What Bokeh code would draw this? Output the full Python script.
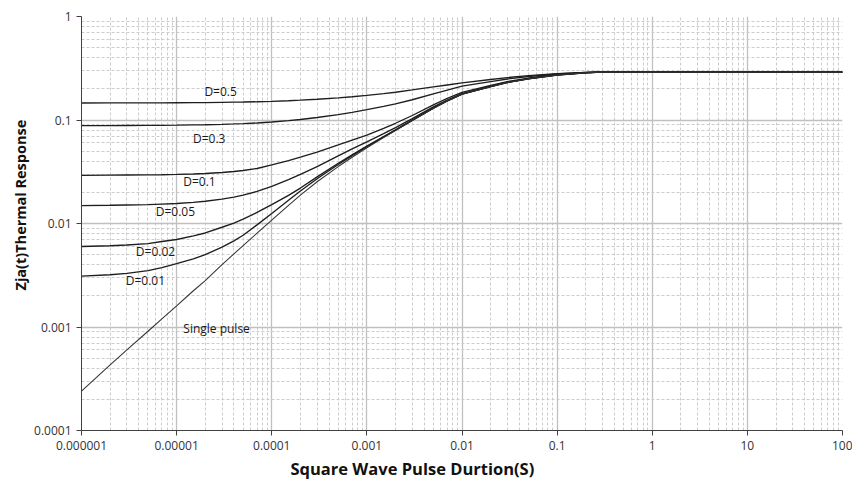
from bokeh.plotting import figure
from bokeh.models import FixedTicker, Title
from bokeh.core.properties import value
from bokeh.embed import file_html
from bokeh.resources import INLINE

# ---- data ----
pulse_t = [1e-6, 2e-6, 3e-6, 5e-6, 7e-6, 1e-5, 1.5e-5, 2e-5, 3e-5, 4e-5, 5e-5,
           7e-5, 1e-4, 1.5e-4, 2e-4, 3e-4, 5e-4, 7e-4, 1e-3, 1.5e-3, 2e-3,
           3e-3, 5e-3, 7e-3, 1e-2, 2e-2, 3e-2, 5e-2, 0.1, 0.2, 0.3, 0.5, 1,
           10, 100]

z_single = [0.00024, 0.00043, 0.00060, 0.00091, 0.0012, 0.0016, 0.00224,
            0.0028, 0.0040, 0.00508, 0.0061, 0.00806, 0.0108, 0.0150, 0.0188,
            0.0253, 0.0355, 0.0437, 0.054, 0.0675, 0.0789, 0.0986, 0.1295,
            0.1524, 0.1774, 0.21, 0.23, 0.25, 0.272, 0.286, 0.29, 0.29, 0.29,
            0.29, 0.29]
z_d001 = [0.0031, 0.0032, 0.0033, 0.0035, 0.00375, 0.0041, 0.00455, 0.0050,
          0.0059, 0.0068, 0.0077, 0.0097, 0.0125, 0.0168, 0.0206, 0.0271,
          0.0372, 0.0452, 0.0553, 0.0685, 0.0797, 0.0992, 0.1300, 0.1528,
          0.1777, 0.2102, 0.2302, 0.2502, 0.2722, 0.2862, 0.29, 0.29, 0.29,
          0.29, 0.29]
z_d002 = [0.0060, 0.0061, 0.0062, 0.0064, 0.0067, 0.0070, 0.0076, 0.0081,
          0.0092, 0.0101, 0.0110, 0.0128, 0.0152, 0.0187, 0.0220, 0.0282,
          0.0382, 0.0460, 0.0560, 0.0692, 0.0802, 0.0997, 0.1303, 0.1531,
          0.1780, 0.2105, 0.2305, 0.2505, 0.2723, 0.2862, 0.29, 0.29, 0.29,
          0.29, 0.29]
z_d005 = [0.0149, 0.0150, 0.0151, 0.0152, 0.0154, 0.0156, 0.0160, 0.0164,
          0.0172, 0.0180, 0.0188, 0.0204, 0.0228, 0.0265, 0.0298, 0.0355,
          0.0450, 0.0525, 0.0615, 0.0740, 0.0845, 0.1030, 0.1340, 0.1560,
          0.1800, 0.2120, 0.2320, 0.2515, 0.2728, 0.2865, 0.29, 0.29, 0.29,
          0.29, 0.29]
z_d01 = [0.0292, 0.0293, 0.0294, 0.0295, 0.0296, 0.0298, 0.0301, 0.0304,
         0.0311, 0.0318, 0.0325, 0.0340, 0.0368, 0.0405, 0.0438, 0.0490,
         0.0575, 0.0640, 0.0715, 0.0830, 0.0930, 0.1105, 0.1400, 0.1615,
         0.1850, 0.2160, 0.2350, 0.2540, 0.2740, 0.2870, 0.29, 0.29, 0.29,
         0.29, 0.29]
z_d03 = [0.0882, 0.0883, 0.0884, 0.0886, 0.0888, 0.0891, 0.0896, 0.0900,
         0.0908, 0.0916, 0.0923, 0.0936, 0.0956, 0.0985, 0.1012, 0.1057,
         0.1129, 0.1186, 0.1258, 0.1353, 0.1432, 0.1570, 0.1787, 0.1947,
         0.2122, 0.2350, 0.2490, 0.2630, 0.2784, 0.2882, 0.29, 0.29, 0.29,
         0.29, 0.29]
z_d05 = [0.1461, 0.1462, 0.1463, 0.1465, 0.1466, 0.1468, 0.1471, 0.1474,
         0.1480, 0.1486, 0.1491, 0.1500, 0.1514, 0.1535, 0.1554, 0.1587,
         0.1638, 0.1679, 0.1730, 0.1798, 0.1855, 0.1953, 0.2088, 0.2180,
         0.2280, 0.2460, 0.2570, 0.2685, 0.2810, 0.2885, 0.29, 0.29, 0.29,
         0.29, 0.29]

curve_names = ["D=0.5", "D=0.3", "D=0.1", "D=0.05", "D=0.02", "D=0.01", "Single pulse"]
label_x = [2.9e-5, 2.2e-5, 1.74e-5, 9.7e-6, 6.0e-6, 4.7e-6, 2.63e-5]
label_y = [0.19, 0.0658, 0.0255, 0.01315, 0.0054, 0.00281, 0.00097]

x_ticks = [1e-6, 1e-5, 1e-4, 1e-3, 1e-2, 1e-1, 1, 10, 100]
x_tick_labels = ["0.000001", "0.00001", "0.0001", "0.001", "0.01", "0.1", "1", "10", "100"]
y_ticks = [1e-4, 1e-3, 1e-2, 1e-1, 1]
y_tick_labels = ["0.0001", "0.001", "0.01", "0.1", "1"]

x_title = "Square Wave Pulse Durtion(S)"
y_title = "Zja(t)Thermal Response"

# ---- figure ----
p = figure(width=852, height=483, x_axis_type="log", y_axis_type="log",
           x_range=(1e-6, 100), y_range=(1e-4, 1),
           output_backend="svg", toolbar_location=None,
           min_border_left=81, min_border_right=10, min_border_top=16,
           min_border_bottom=53)
p.outline_line_color = None
p.background_fill_color = "white"

x_minor = [m * 10.0 ** e for e in range(-6, 2) for m in range(2, 10)]
y_minor = [m * 10.0 ** e for e in range(-4, 0) for m in range(2, 10)]
p.xaxis.ticker = FixedTicker(ticks=x_ticks, minor_ticks=x_minor)
p.yaxis.ticker = FixedTicker(ticks=y_ticks, minor_ticks=y_minor)
p.xaxis.major_label_overrides = dict(zip(x_ticks, x_tick_labels))
p.yaxis.major_label_overrides = dict(zip(y_ticks, y_tick_labels))

for ax in (p.xaxis[0], p.yaxis[0]):
    ax.axis_line_color = "#404040"
    ax.axis_line_width = 1
    ax.major_tick_line_color = "#404040"
    ax.major_tick_out = 5
    ax.major_tick_in = 0
    ax.minor_tick_line_color = None
    ax.major_label_text_font = "Open Sans"
    ax.major_label_text_font_size = "12px"
    ax.major_label_text_color = "#333333"
    ax.major_label_standoff = 5

p.grid.grid_line_color = "#c0c0c0"
p.grid.grid_line_width = 1.3
p.grid.minor_grid_line_color = "#cccccc"
p.grid.minor_grid_line_dash = "3 2"
p.grid.minor_grid_line_width = 1

series = [z_d05, z_d03, z_d01, z_d005, z_d002, z_d001]
for s in series:
    p.line(pulse_t, s, line_color="#1e1e1e", line_width=1.35)
p.line(pulse_t, z_single, line_color="#333333", line_width=1.05)

p.text(x=label_x, y=label_y, text=curve_names, text_font=value("Open Sans"),
       text_font_size="12px", text_color="#1a1a1a", text_align="center",
       text_baseline="middle")

p.add_layout(Title(text=x_title, align="left", offset=209, text_font="Open Sans",
                   text_font_style="bold", text_font_size="16.5px",
                   text_color="#111111", standoff=5), "below")
p.add_layout(Title(text=y_title, align="left", offset=140, text_font="Open Sans",
                   text_font_style="bold", text_font_size="14.5px",
                   text_color="#111111", standoff=4), "left")

open("out.html", "w").write(file_html(p, INLINE))
